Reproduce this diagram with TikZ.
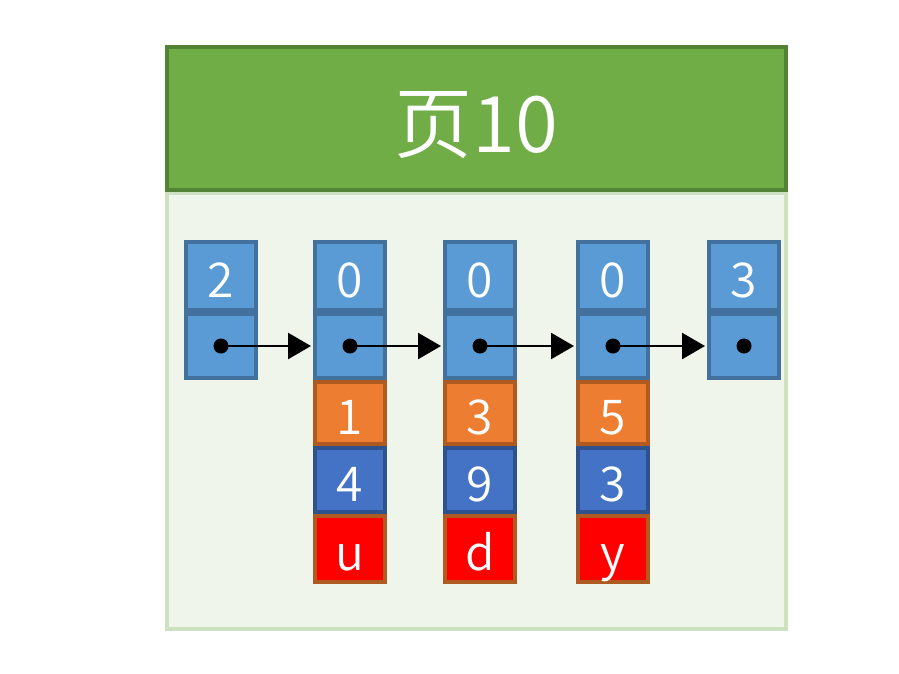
\documentclass[tikz,border=0pt]{standalone}
\usepackage{fontspec}
\setmainfont{Noto Sans CJK SC}[UprightFont={* DemiLight}]
\usetikzlibrary{arrows.meta}
\definecolor{hdrfill}{HTML}{70AD47}
\definecolor{hdrline}{HTML}{548235}
\definecolor{bodyfill}{HTML}{F0F5EC}
\definecolor{bodyline}{HTML}{CCE2BE}
\definecolor{lbfill}{HTML}{5B9BD5}
\definecolor{lbline}{HTML}{41719C}
\definecolor{orfill}{HTML}{ED7D31}
\definecolor{orline}{HTML}{AE5A21}
\definecolor{dbfill}{HTML}{4472C4}
\definecolor{dbline}{HTML}{2F528F}
\definecolor{rdfill}{HTML}{FF0000}
\definecolor{rdline}{HTML}{AE5A21}
\tikzset{
  cell/.style={rectangle, line width=4pt, minimum width=70pt, inner sep=0pt, text=white,
    font=\fontsize{48}{48}\selectfont, text height=43pt, text depth=0pt},
  lb/.style={cell, fill=lbfill, draw=lbline},
  orc/.style={cell, fill=orfill, draw=orline},
  dbc/.style={cell, fill=dbfill, draw=dbline},
  rdc/.style={cell, fill=rdfill, draw=rdline},
  dotn/.style={circle, fill=black, minimum size=15pt, inner sep=0pt},
  link/.style={line width=2.5pt, -{Triangle[length=23pt,width=26pt]}, shorten >=2pt},
}
\begin{document}
\begin{tikzpicture}[x=1pt,y=-1pt]
\useasboundingbox (0,0) rectangle (899,673);
\fill[white] (0,0) rectangle (899,673);
\node[rectangle, fill=bodyfill, draw=bodyline, line width=4pt, minimum width=619pt, minimum height=436pt, inner sep=0pt] (body) at (476.5,411) {};
\node[rectangle, fill=hdrfill, draw=hdrline, line width=4pt, minimum width=619pt, minimum height=143pt, inner sep=0pt, text=white, font=\fontsize{78}{78}\selectfont, text height=67pt, text depth=0pt] (hdr) at (476.5,118.5) {页10};
% columns
\foreach \n/\x/\t in {1/221/2, 2/350/0, 3/480/0, 4/613/0, 5/744/3}{
  \node[lb, minimum height=68pt] (c\n a) at (\x,276) {\t};
  \node[lb, minimum height=64pt] (c\n b) at (\x,346) {};
  \node[dotn] (d\n) at (c\n b.center) {};
}
\node[orc, minimum height=62pt] (c2c) at (350,413) {1};
\node[dbc, minimum height=64pt] (c2d) at (350,480) {4};
\node[rdc, minimum height=66pt] (c2e) at (350,549) {u};
\node[orc, minimum height=62pt] (c3c) at (480,413) {3};
\node[dbc, minimum height=64pt] (c3d) at (480,480) {9};
\node[rdc, minimum height=66pt] (c3e) at (480,549) {d};
\node[orc, minimum height=62pt] (c4c) at (613,413) {5};
\node[dbc, minimum height=64pt] (c4d) at (613,480) {3};
\node[rdc, minimum height=66pt] (c4e) at (613,549) {y};
\foreach \a/\b in {1/2, 2/3, 3/4, 4/5}{
  \draw[link] (d\a.center) -- (c\b b.west);
}
\end{tikzpicture}
\end{document}
